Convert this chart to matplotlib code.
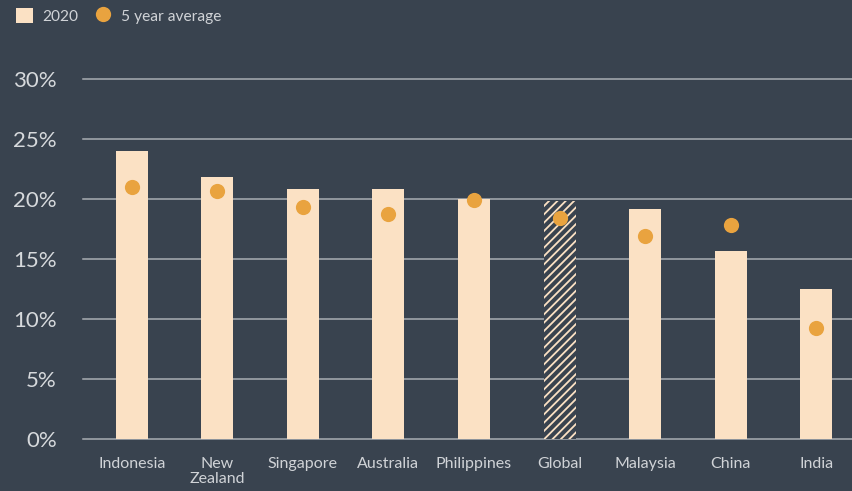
import matplotlib
matplotlib.use("Agg")
import matplotlib.pyplot as plt
from matplotlib.patches import Patch
from matplotlib.lines import Line2D

categories = ["Indonesia", "New\nZealand", "Singapore", "Australia", "Philippines",
              "Global", "Malaysia", "China", "India"]
values_2020 = [24.0, 21.8, 20.8, 20.8, 20.0, 19.8, 19.2, 15.7, 12.5]
avg_5yr = [21.0, 20.7, 19.3, 18.75, 19.9, 18.4, 16.9, 17.8, 9.25]
yticks = [0, 5, 10, 15, 20, 25, 30]
ytick_labels = ["0%", "5%", "10%", "15%", "20%", "25%", "30%"]

BG = "#39434f"
CREAM = "#fbe1c4"
ORANGE = "#e9a33f"
GRID = "#a9adb3"
TXT = "#d0d3d7"

plt.rcParams["font.family"] = ["Lato", "DejaVu Sans"]
plt.rcParams["hatch.color"] = CREAM
plt.rcParams["hatch.linewidth"] = 1.3

fig = plt.figure(figsize=(8.52, 4.91), dpi=100, facecolor=BG)
ax = fig.add_axes([83/852, 52/491, (852-83)/852, (439-79)/491])
ax.set_facecolor(BG)

x = list(range(len(categories)))
for i, v in enumerate(values_2020):
    if categories[i] == "Global":
        ax.bar(i, v, width=0.374, color=BG, edgecolor=CREAM, linewidth=0,
               hatch="////", zorder=2)
    else:
        ax.bar(i, v, width=0.374, color=CREAM, linewidth=0, zorder=2)

ax.scatter(x, avg_5yr, s=120, color=ORANGE, zorder=3, linewidths=0)

ax.set_xlim(-0.569, 8.417)
ax.set_ylim(0, 30)
ax.set_yticks(yticks)
ax.set_yticklabels(ytick_labels)
ax.set_xticks(x)
ax.set_xticklabels(categories, linespacing=1.1)

for yv in yticks:
    ax.axhline(yv, color=GRID, linewidth=1.1, zorder=1, clip_on=False)

for s in ax.spines.values():
    s.set_visible(False)
ax.tick_params(axis="y", length=0, pad=18.7, labelsize=16, labelcolor="#d6d9dc")
ax.tick_params(axis="x", length=0, pad=13, labelsize=11.5, labelcolor=TXT)
for lbl in ax.get_xticklabels():
    lbl.set_verticalalignment("top")

handles = [
    Patch(facecolor=CREAM, edgecolor="none", label="2020"),
    Line2D([], [], marker="o", linestyle="none", markersize=11,
           markerfacecolor=ORANGE, markeredgewidth=0, label="5 year average"),
]
leg = fig.legend(handles=handles, loc="upper left",
                 bbox_to_anchor=(16/852, (491-8)/491), borderpad=0,
                 borderaxespad=0,
                 ncol=2, frameon=False, fontsize=11.2, labelcolor=TXT,
                 handlelength=1.12, handleheight=1.12, handletextpad=0.6,
                 columnspacing=1.0)

fig.savefig("out.png", dpi=100, facecolor=BG)
